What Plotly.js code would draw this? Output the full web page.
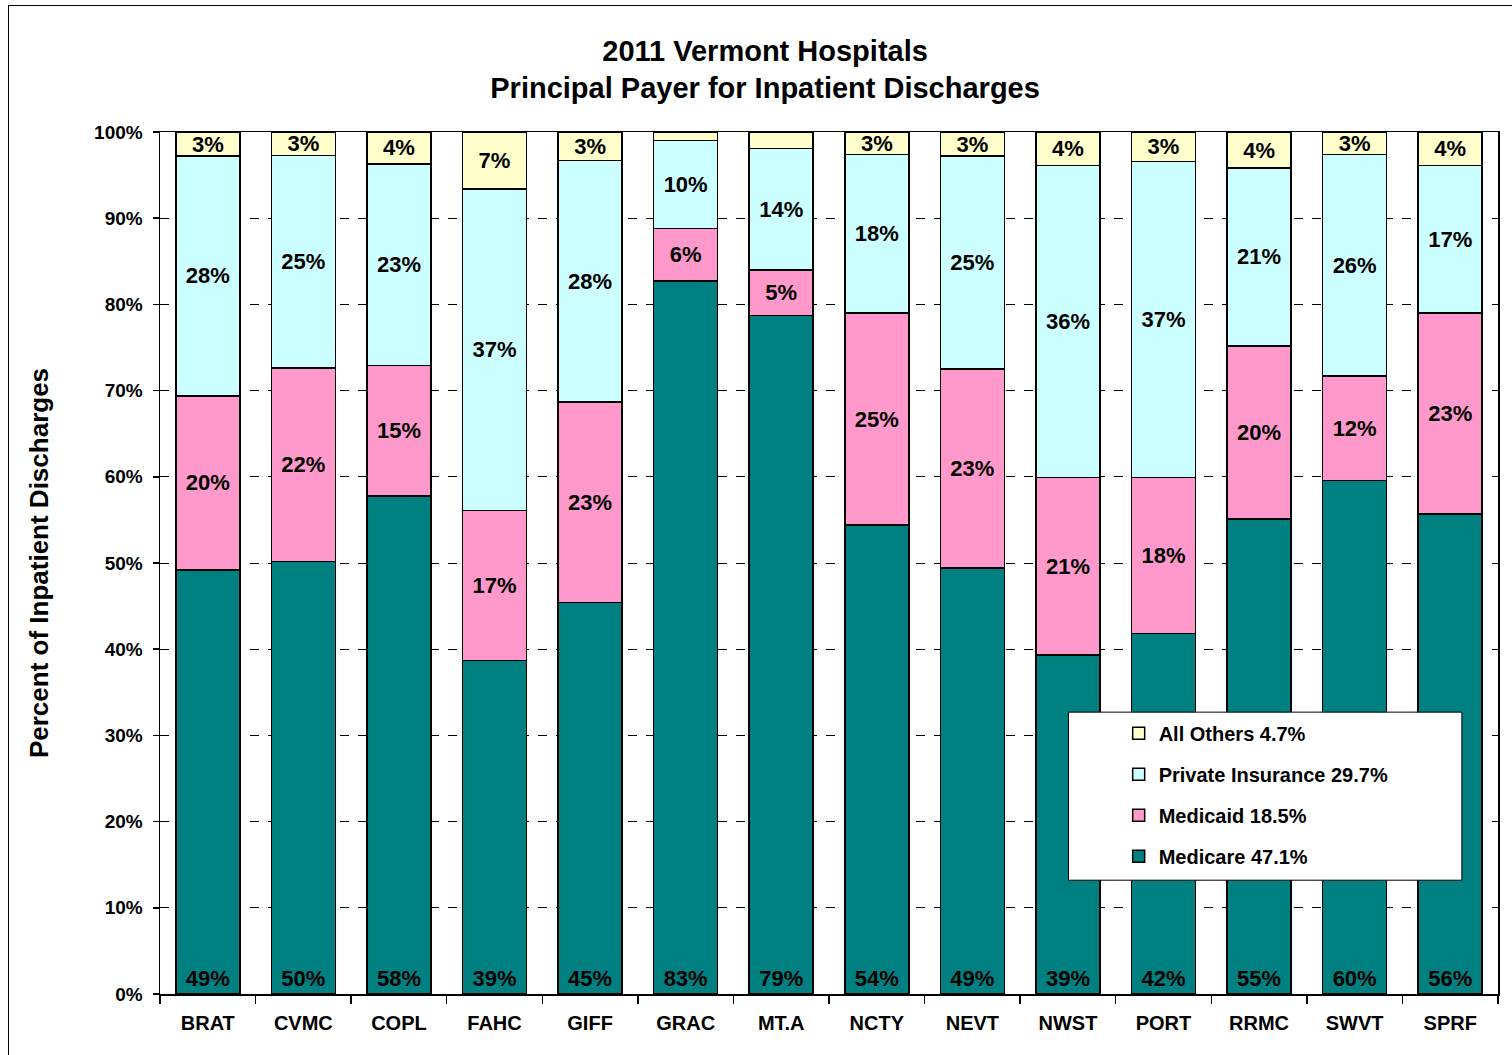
<!DOCTYPE html>
<html>
<head>
<meta charset="utf-8">
<script src="https://cdn.plot.ly/plotly-3.0.1.min.js"></script>
<style>
  html, body { margin: 0; padding: 0; background: #fff; overflow: hidden; }
  #frame { position: absolute; left: 8px; top: 5px; width: 1600px; height: 1200px;
           border-left: 1.5px solid #000; border-top: 1.5px solid #000; pointer-events: none; z-index: 5; }
  #chart { position: absolute; left: 0; top: 0; width: 1512px; height: 1055px; }
</style>
</head>
<body>
<div id="chart"></div>
<div id="frame"></div>
<script>
// ---- data (percent of inpatient discharges) ----
const hospitals = ["BRAT", "CVMC", "COPL", "FAHC", "GIFF", "GRAC", "MT.A", "NCTY", "NEVT", "NWST", "PORT", "RRMC", "SWVT", "SPRF"];
const medicare  = [49.2, 50.2, 57.8, 38.7, 45.4, 82.7, 78.7, 54.4, 49.4, 39.3, 41.8, 55.1, 59.6, 55.7];
const medicaid  = [20.2, 22.4, 15.1, 17.4, 23.3, 6.1, 5.3, 24.6, 23.1, 20.6, 18.1, 20.1, 12.1, 23.3];
const privateIns = [27.8, 24.7, 23.4, 37.3, 28.0, 10.2, 14.1, 18.4, 24.7, 36.2, 36.7, 20.6, 25.7, 17.1];
const allOthers = [2.8, 2.7, 3.7, 6.6, 3.3, 1.0, 1.9, 2.6, 2.8, 3.9, 3.4, 4.2, 2.6, 3.9];
const seriesNames = ["Medicare 47.1%", "Medicaid 18.5%", "Private Insurance 29.7%", "All Others 4.7%"];
const yTickVals = [0, 10, 20, 30, 40, 50, 60, 70, 80, 90, 100];
const yTickText = ["0%", "10%", "20%", "30%", "40%", "50%", "60%", "70%", "80%", "90%", "100%"];

const FONT = "Liberation Sans, Arial, Helvetica, sans-serif";
const colors = ["#008080", "#FF99CC", "#CCFFFF", "#FFFFCC"];
const seriesValues = [medicare, medicaid, privateIns, allOthers];

function labels(vals) {
  return vals.map(v => v >= 2.5 ? Math.round(v) + "%" : "");
}

const traces = seriesValues.map((vals, i) => ({
  type: "bar",
  name: seriesNames[i],
  x: hospitals,
  y: vals,
  text: labels(vals),
  textposition: "inside",
  insidetextanchor: i === 0 ? "start" : "middle",
  textangle: 0,
  constraintext: "none",
  textfont: { family: FONT, size: 22, weight: 700, color: "#000" },
  marker: { color: colors[i], line: { color: "#000", width: 1.5 } },
  legendgroup: "g" + i,
  legendrank: 4 - i,
  hoverinfo: "x+y+name"
}));

const layout = {
  width: 1512,
  height: 1055,
  paper_bgcolor: "rgba(0,0,0,0)",
  plot_bgcolor: "#fff",
  font: { family: FONT, color: "#000" },
  margin: { l: 160, r: 14, t: 132, b: 61 },
  barmode: "stack",
  bargap: 0.33,
  showlegend: true,
  title: {
    text: "2011 Vermont Hospitals<br>Principal Payer for Inpatient Discharges",
    font: { family: FONT, size: 29, weight: 700, color: "#000" },
    x: 0.506, xanchor: "center", xref: "container",
    y: 0.9426, yanchor: "middle", yref: "container"
  },
  xaxis: {
    type: "category",
    showline: true, linecolor: "#000", linewidth: 1.5, mirror: true,
    ticks: "outside", tickson: "boundaries", ticklen: 8, tickcolor: "#000", tickwidth: 1.5,
    ticklabelstandoff: 10,
    tickfont: { family: FONT, size: 20, weight: 700, color: "#000" },
    showgrid: false, zeroline: false, fixedrange: true
  },
  yaxis: {
    range: [0, 100],
    tickmode: "array",
    tickvals: yTickVals,
    ticktext: yTickText,
    showline: true, linecolor: "#000", linewidth: 1.5, mirror: true,
    ticks: "outside", ticklen: 6, tickcolor: "#000", tickwidth: 1.5,
    ticklabelstandoff: 6,
    tickfont: { family: FONT, size: 19, weight: 700, color: "#000" },
    showgrid: true, gridcolor: "#000", gridwidth: 1, griddash: "dash",
    zeroline: false, fixedrange: true,
    title: {
      text: "Percent of Inpatient Discharges",
      font: { family: FONT, size: 26, weight: 700, color: "#000" },
      standoff: 38
    }
  },
  legend: {
    traceorder: "grouped",
    tracegroupgap: 12,
    x: 0.7165, xanchor: "left",
    y: 0.325, yanchor: "top",
    bgcolor: "rgba(0,0,0,0)",
    borderwidth: 0,
    font: { family: FONT, size: 20, weight: 700, color: "#000" }
  },
  shapes: [{
    type: "rect", xref: "paper", yref: "paper",
    x0: 0.679, x1: 0.973, y0: 0.132, y1: 0.327,
    fillcolor: "#fff", line: { color: "#000", width: 1 }, layer: "above"
  }]
};

Plotly.newPlot("chart", traces, layout, { displayModeBar: false, staticPlot: true });
</script>
</body>
</html>
